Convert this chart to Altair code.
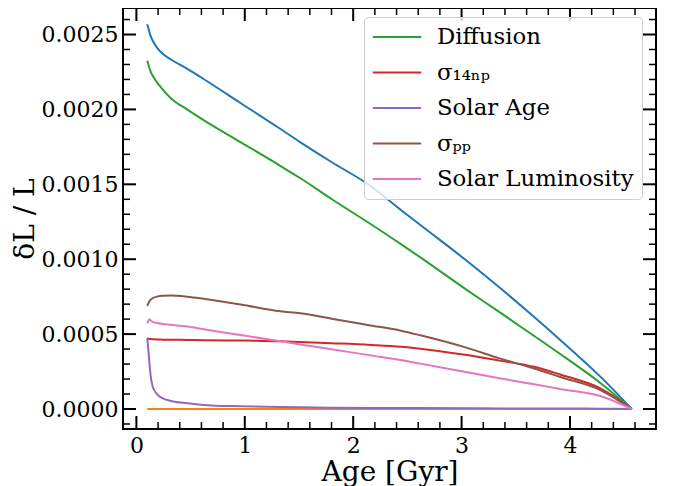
import altair as alt
import pandas as pd

# ---- data ----
age = [0.10, 0.11, 0.12, 0.13, 0.15, 0.19, 0.24, 0.32, 0.47, 0.62, 0.96, 1.33,
       1.51, 1.80, 2.16, 2.44, 2.62, 3.05, 3.35, 3.67, 3.91, 4.28, 4.57]

total = [0.002568, 0.002543, 0.002517, 0.002493, 0.002460, 0.002413, 0.002373,
         0.002333, 0.002270, 0.002203, 0.002043, 0.001869, 0.001782, 0.001649,
         0.001489, 0.001329, 0.001228, 0.000988, 0.000811, 0.000614, 0.000461,
         0.000216, 0.0]
zero = [0.0, 0.0, 0.0, 0.0, 0.0, 0.0, 0.0, 0.0, 0.0, 0.0, 0.0, 0.0,
        0.0, 0.0, 0.0, 0.0, 0.0, 0.0, 0.0, 0.0, 0.0, 0.0, 0.0]
diffusion = [0.002326, 0.002303, 0.002276, 0.002256, 0.002226, 0.002180, 0.002136,
             0.002073, 0.001999, 0.001929, 0.001782, 0.001622, 0.001542, 0.001402,
             0.001235, 0.001101, 0.001012, 0.000794, 0.000647, 0.000487, 0.000367,
             0.000174, 0.0]
sigma_14np = [0.000472, 0.000470, 0.000468, 0.000467, 0.000466, 0.000464, 0.000463,
              0.000462, 0.000461, 0.000459, 0.000457, 0.000452, 0.000447, 0.000439,
              0.000428, 0.000416, 0.000403, 0.000360, 0.000323, 0.000282, 0.000230,
              0.000138, 0.0]
solar_age = [0.000472, 0.000400, 0.000310, 0.000230, 0.000150, 0.000100, 0.000072,
             0.000053, 0.000038, 0.000027, 0.000018, 0.000013, 0.000011, 0.000009,
             0.000007, 0.000006, 0.000006, 0.000005, 0.000004, 0.000003, 0.000003,
             0.000002, 0.0]
sigma_pp = [0.000688, 0.000705, 0.000718, 0.000728, 0.000740, 0.000750, 0.000756,
            0.000758, 0.000750, 0.000736, 0.000698, 0.000652, 0.000639, 0.000603,
            0.000558, 0.000523, 0.000492, 0.000408, 0.000338, 0.000270, 0.000214,
            0.000127, 0.0]
solar_lum = [0.000572, 0.000590, 0.000600, 0.000592, 0.000582, 0.000574, 0.000568,
             0.000562, 0.000550, 0.000532, 0.000494, 0.000452, 0.000431, 0.000399,
             0.000358, 0.000327, 0.000303, 0.000245, 0.000205, 0.000165, 0.000134,
             0.000087, 0.0]

series_names = ["_total", "_zero", "Diffusion", "σ₁₄ₙₚ", "Solar Age", "σₚₚ",
                "Solar Luminosity"]
series_values = [total, zero, diffusion, sigma_14np, solar_age, sigma_pp, solar_lum]
series_colors = ["#1f77b4", "#ff7f0e", "#2ca02c", "#d62728", "#9467bd",
                 "#8c564b", "#e377c2"]
legend_names = ["Diffusion", "σ₁₄ₙₚ", "Solar Age", "σₚₚ", "Solar Luminosity"]

x_major = [0, 1, 2, 3, 4]
x_minor = [0.2, 0.4, 0.6, 0.8, 1.2, 1.4, 1.6, 1.8, 2.2, 2.4, 2.6, 2.8,
           3.2, 3.4, 3.6, 3.8, 4.2, 4.4, 4.6]
y_major = [0.0, 0.0005, 0.0010, 0.0015, 0.0020, 0.0025]
y_minor = [-0.0001, 0.0001, 0.0002, 0.0003, 0.0004, 0.0006, 0.0007, 0.0008, 0.0009,
           0.0011, 0.0012, 0.0013, 0.0014, 0.0016, 0.0017, 0.0018, 0.0019,
           0.0021, 0.0022, 0.0023, 0.0024, 0.0026]

# ---- layout ----
W, H = 533, 421
x_dom = [-0.1235, 4.7935]
y_dom = [-0.0001335, 0.002677]
FONT = "DejaVu Serif"
X_TITLE = "Age [Gyr]"
Y_TITLE = "δL / L"

rows = []
for name, vals in zip(series_names, series_values):
    for a, v in zip(age, vals):
        rows.append({"age": a, "val": v, "series": name})
df = pd.DataFrame(rows)

xs = alt.Scale(domain=x_dom, nice=False, zero=False)
ys = alt.Scale(domain=y_dom, nice=False, zero=False)
x_axis = alt.Axis(values=x_major, format="d", labelPadding=6, titlePadding=2)
y_axis = alt.Axis(values=y_major, format=".4f", labelPadding=5, titlePadding=2)

lines = alt.Chart(df).mark_line(strokeWidth=2, interpolate="monotone").encode(
    x=alt.X("age:Q", scale=xs, title=X_TITLE, axis=x_axis),
    y=alt.Y("val:Q", scale=ys, title=Y_TITLE, axis=y_axis),
    color=alt.Color("series:N",
                    scale=alt.Scale(domain=series_names, range=series_colors),
                    legend=alt.Legend(values=legend_names, title=None,
                                      orient="none", legendX=241, legendY=9,
                                      padding=8, fillColor="rgba(255,255,255,0.8)",
                                      strokeColor="#d0d0d0", cornerRadius=4,
                                      labelFont=FONT, labelFontSize=22.8,
                                      labelColor="black", labelLimit=0,
                                      symbolType="M-2.2,0H2.2",
                                      symbolStrokeWidth=2, symbolSize=484,
                                      symbolOffset=13, labelOffset=28,
                                      rowPadding=11.5)),
    detail="series:N",
    order="age:Q",
)


def xticks(vals, length, sw, top):
    d = pd.DataFrame({"v": vals})
    if top:
        yy, yy2 = alt.value(0), alt.value(length)
    else:
        yy, yy2 = alt.value(H - length), alt.value(H)
    return alt.Chart(d).mark_rule(color="black", strokeWidth=sw).encode(
        x=alt.X("v:Q", scale=xs, title=X_TITLE, axis=x_axis), y=yy, y2=yy2)


def yticks(vals, length, sw, right):
    d = pd.DataFrame({"v": vals})
    if right:
        xx, xx2 = alt.value(W - length), alt.value(W)
    else:
        xx, xx2 = alt.value(0), alt.value(length)
    return alt.Chart(d).mark_rule(color="black", strokeWidth=sw).encode(
        y=alt.Y("v:Q", scale=ys, title=Y_TITLE, axis=y_axis), x=xx, x2=xx2)


tick_layers = []
for top in (False, True):
    tick_layers.append(xticks(x_major, 13, 2, top))
    tick_layers.append(xticks(x_minor, 7, 1.5, top))
for right in (False, True):
    tick_layers.append(yticks(y_major, 13, 2, right))
    tick_layers.append(yticks(y_minor, 7, 1.5, right))

chart = alt.layer(lines, *tick_layers).properties(
    width=W, height=H,
    autosize=alt.AutoSizeParams(type="none"),
    padding={"left": 115, "top": 0, "right": 12, "bottom": 58},
).configure_view(
    stroke="black", strokeWidth=2
).configure_axis(
    grid=False, domain=False, ticks=False, tickSize=0,
    labelFont=FONT, labelFontSize=22, labelColor="black", labelFontWeight="normal",
    titleFont=FONT, titleFontSize=28, titleFontWeight="normal", titleColor="black",
)

chart.save("out.html", embed_options={"renderer": "svg", "actions": False})
